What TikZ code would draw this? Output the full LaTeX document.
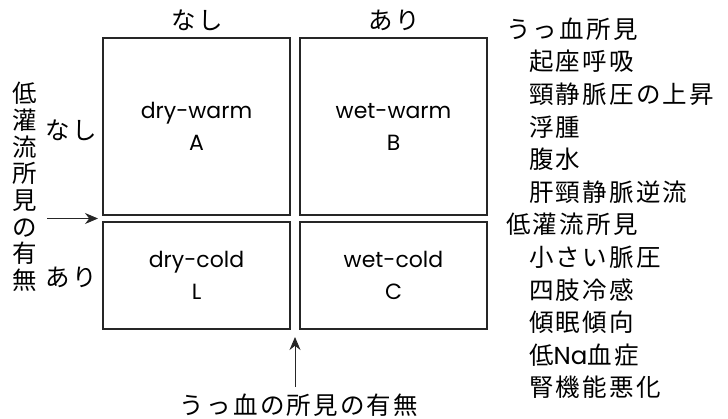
\documentclass[tikz,border=0pt]{standalone}
\usepackage{fontspec}
\newfontfamily\jp{Noto Sans CJK JP}[LetterSpace=9]
\newfontfamily\jpv{Noto Sans CJK JP}
\newfontfamily\lat{Poppins}
\usetikzlibrary{arrows.meta}
\begin{document}
\begin{tikzpicture}[x=1pt,y=-1pt,
  cell/.style={draw=black!85, line width=1.2pt, inner sep=0pt, align=center,
    font=\lat\fontsize{22}{32}\selectfont},
  jtext/.style={font=\jp\fontsize{24.5}{27}\selectfont, inner sep=0pt},
  item/.style={jtext, anchor=west},
  arr/.style={-{Stealth[length=13pt,width=11pt]}, line width=0.9pt, draw=black!85}]
\useasboundingbox (0,0) rectangle (728,418);
% cells
\node[cell, minimum width=187pt, minimum height=177pt] (A) at (196.5,126.5) {dry-warm\\A};
\node[cell, minimum width=187pt, minimum height=177pt] (B) at (393.5,126.5) {wet-warm\\B};
\node[cell, minimum width=187pt, minimum height=107pt] (L) at (196.5,275.5) {dry-cold\\L};
\node[cell, minimum width=187pt, minimum height=107pt] (C) at (393.5,275.5) {wet-cold\\C};
% axis labels
\node[jtext] (tn) at (197,20) {なし};
\node[jtext] (ta) at (394,20) {あり};
\node[jtext] (ln) at (71,130) {なし};
\node[jtext] (lr) at (71,277) {あり};
\node[inner sep=0pt, align=center, font=\jpv\fontsize{24.5}{26.7}\selectfont] (vl) at (25,187)
  {低\\灌\\流\\所\\見\\の\\有\\無};
\node[jtext] (bl) at (299,405) {うっ血の所見の有無};
% arrows
\coordinate (la) at (47,218.5);
\coordinate (lb) at (98,218.5);
\draw[arr] (la) -- (lb);
\coordinate (ua) at (295,387);
\coordinate (ub) at (295,337);
\draw[arr] (ua) -- (ub);
% right list
\node[item] (h1) at (506,29) {うっ血所見};
\node[item] (i1) at (529,61.6) {起座呼吸};
\node[item] (i2) at (529,94.2) {頸静脈圧の上昇};
\node[item] (i3) at (529,126.8) {浮腫};
\node[item] (i4) at (529,159.4) {腹水};
\node[item] (i5) at (529,192) {肝頸静脈逆流};
\node[item] (h2) at (506,224.6) {低灌流所見};
\node[item] (j1) at (529,257.2) {小さい脈圧};
\node[item] (j2) at (529,289.8) {四肢冷感};
\node[item] (j3) at (529,322.4) {傾眠傾向};
\node[item] (j4) at (529,355) {低{\lat Na}血症};
\node[item] (j5) at (529,387.6) {腎機能悪化};
\end{tikzpicture}
\end{document}
